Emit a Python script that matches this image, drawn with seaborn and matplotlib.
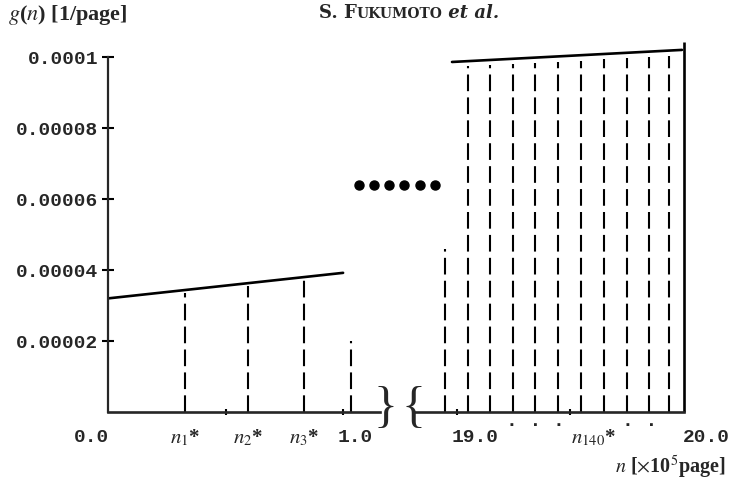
import numpy as np
import matplotlib
matplotlib.use("Agg")
import matplotlib.pyplot as plt
import seaborn as sns
from matplotlib.offsetbox import TextArea, HPacker, AnchoredOffsetbox

# left part of the broken x axis (x in 10^5 pages)
left_line_x = [0.0, 1.0]
left_line_y = [0.0000320, 0.0000392]
left_n = [0.328, 0.596, 0.834]          # n1*, n2*, n3*
left_short_x = [1.034]
left_short_y = [0.0000200]

# right part of the broken x axis
right_line_x = [18.978, 19.991]
right_line_y = [0.0000986, 0.0001020]
right_n = [19.048, 19.145, 19.247, 19.344, 19.445, 19.546, 19.648, 19.749, 19.846, 19.932]
right_short_x = [18.947]
right_short_y = [0.0000459]
right_end_x = 20.0
right_end_y = 0.0001042

ytick_vals = [0.00002, 0.00004, 0.00006, 0.00008, 0.0001]
ytick_labels = ["0.00002", "0.00004", "0.00006", "0.00008", "0.0001"]

left_minor = [0.5, 1.0]
right_minor = [19.0, 19.5]
left_labels = [(-0.072, "0.0"), (left_n[0], r"$n_1$*"), (left_n[1], r"$n_2$*"),
               (left_n[2], r"$n_3$*"), (1.051, "1.0")]
right_labels = [(19.079, "19.0"), (19.344, "\u00b7 \u00b7 \u00b7"), (19.60, r"$n_{140}$*"),
                (19.806, "\u00b7 \u00b7"), (20.097, "20.0")]

# big dots between the two parts
gap_dots_x = [1.068, 1.132, 1.196, 1.260, 1.328, 1.391]
gap_dots_y = 0.0000639

sns.set_style("ticks")
plt.rcParams["mathtext.fontset"] = "stix"
mono = "Liberation Mono"
serif = "Liberation Serif"

W, H = 732, 481
def fx(px):
    return px / W
def fy(py):
    return 1 - py / H

fig = plt.figure(figsize=(W / 100, H / 100), dpi=100)
ax_l = fig.add_axes([fx(108), fy(413), (380 - 108) / W, 355 / H])
ax_r = fig.add_axes([fx(415), fy(413), (684 - 415) / W, 355 / H])

dash = (0, (8, 3))
lw_solid = 1.9

# left panel
sns.lineplot(x=left_line_x, y=left_line_y, ax=ax_l, color="black", lw=lw_solid)
tops = np.interp(left_n, left_line_x, left_line_y) - 0.0000008
ax_l.vlines(left_n, 0, tops, colors="black", linestyles=dash, lw=1.5)
ax_l.vlines(left_short_x, 0, left_short_y, colors="black", linestyles=dash, lw=1.5, clip_on=False)
ax_l.plot(gap_dots_x, [gap_dots_y] * len(gap_dots_x), "o", ms=6.5, color="black", clip_on=False)

# right panel
sns.lineplot(x=right_line_x, y=right_line_y, ax=ax_r, color="black", lw=lw_solid)
for l in ax_r.lines:
    l.set_clip_on(False)
tops_r = np.interp(right_n, right_line_x, right_line_y) - 0.0000015
ax_r.vlines(right_n, 0, tops_r, colors="black", linestyles=dash, lw=1.5, clip_on=False)
ax_r.vlines(right_short_x, 0, right_short_y, colors="black", linestyles=dash, lw=1.5)
ax_r.vlines([right_end_x], 0, right_end_y, colors="black", lw=lw_solid, clip_on=False)

for ax in (ax_l, ax_r):
    ax.set_ylim(0, 0.0001)
    ax.set_facecolor("none")
    for s in ("top", "right"):
        ax.spines[s].set_visible(False)
    ax.spines["bottom"].set_linewidth(1.9)
    ax.spines["left"].set_linewidth(1.6)
    ax.set_xticks([])
    ax.tick_params(axis="x", which="minor", direction="inout", length=5, width=1.5, color="black")

ax_l.set_xlim(0, 1.157)
ax_r.set_xlim(18.815, 20.0)
ax_r.spines["left"].set_visible(False)
ax_r.set_yticks([])
ax_l.set_xticks(left_minor, minor=True)
ax_r.set_xticks(right_minor, minor=True)
ax_l.set_yticks(ytick_vals, labels=ytick_labels)
ax_l.tick_params(axis="y", direction="inout", length=8, width=1.5, pad=3, color="black")
for t in ax_l.get_yticklabels():
    t.set_fontfamily(mono)
    t.set_fontsize(14)
    t.set_fontweight("bold")

for ax, labels in ((ax_l, left_labels), (ax_r, right_labels)):
    for xv, txt in labels:
        is_n = "$" in txt
        dots = "\u00b7" in txt
        ax.text(xv, -0.035 if dots else -0.07, txt, transform=ax.get_xaxis_transform(),
                ha="center", va="center", clip_on=False,
                fontfamily=serif if is_n else mono,
                fontsize=15 if is_n else 14, fontweight="bold")

# axis-break braces
fig.text(fx(386), fy(409), "}", fontsize=36, fontfamily=serif, ha="center", va="center")
fig.text(fx(414), fy(409), "{", fontsize=36, fontfamily=serif, ha="center", va="center")

# axis titles
fig.text(fx(8), fy(15), r"$g$($n$) [1/page]", fontsize=16, fontfamily=serif,
         fontweight="bold", ha="left", va="center")
fig.text(fx(726), fy(467), r"$n$ [$\times$10$^5$page]", fontsize=14.5, fontfamily=serif,
         fontweight="bold", ha="right", va="center")

# running header
props_big = dict(fontsize=13, fontfamily="DejaVu Serif", fontweight="bold")
props_small = dict(fontsize=10, fontfamily="DejaVu Serif", fontweight="bold")
props_it = dict(fontsize=13, fontfamily="DejaVu Serif", fontweight="bold", fontstyle="italic")
header = HPacker(children=[TextArea("S. F", textprops=props_big),
                           TextArea("UKUMOTO", textprops=props_small),
                           TextArea(" et al.", textprops=props_it)],
                 align="baseline", pad=0, sep=0)
box = AnchoredOffsetbox(loc="center", child=header, pad=0, borderpad=0, frameon=False,
                        bbox_to_anchor=(fx(409), fy(13)), bbox_transform=fig.transFigure)
fig.add_artist(box)

fig.savefig("out.png", dpi=100, facecolor="white")
